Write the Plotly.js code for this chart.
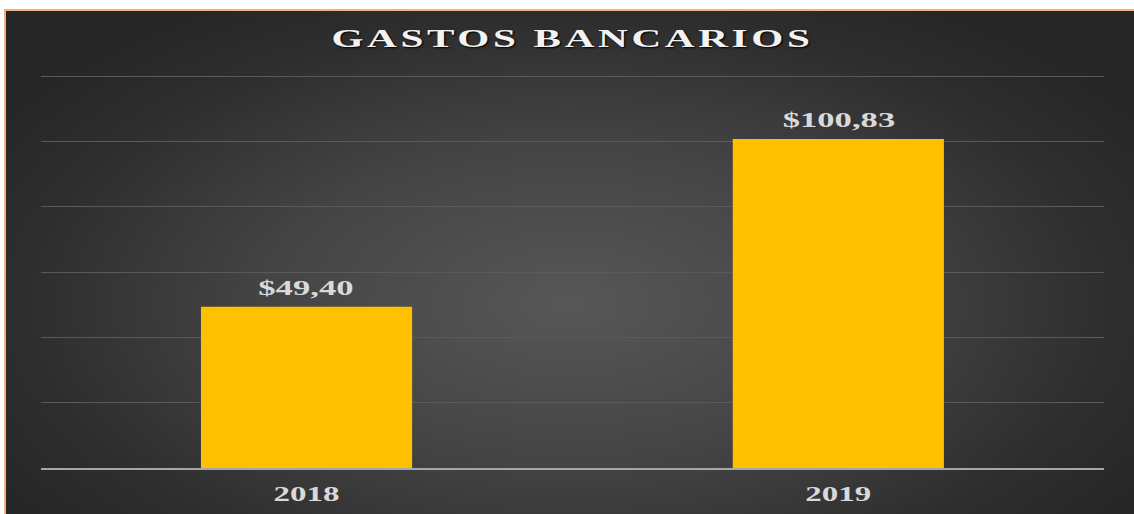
<!DOCTYPE html>
<html>
<head>
<meta charset="utf-8">
<script src="https://cdn.plot.ly/plotly-3.0.1.min.js"></script>
<style>
  html, body { margin: 0; padding: 0; background: #ffffff; width: 1134px; height: 514px; overflow: hidden; }
  #frame {
    position: absolute; left: 4px; top: 9px; width: 1128px; height: 505px;
    border-left: 2px solid #f4b183; border-top: 2px solid #f4b183;
    background: radial-gradient(ellipse 60% 70% at 50% 58%, #575757 0%, #444444 45%, #2e2e2e 80%, #262626 100%);
    overflow: hidden;
  }
  #chart { position: absolute; left: 0; top: 0; width: 684px; height: 503px; transform-origin: 0 0; }
  .gtitle { letter-spacing: 2.2px; }
  #err { position: absolute; left: 10px; top: 200px; color: red; font: 14px sans-serif; }
</style>
</head>
<body>
<div id="frame"><div id="chart"></div></div>
<div id="err"></div>
<script>
window.onerror = function (m) { document.getElementById('err').textContent += ' ' + m; };

const categories = ['2018', '2019'];
const values = [49.40, 100.83];
const chartTitle = 'GASTOS BANCARIOS';

const fmt = v => '$' + v.toFixed(2).replace('.', ',');
const serif = '"Liberation Serif", "Times New Roman", serif';

const trace = {
  type: 'bar',
  x: categories,
  y: values,
  marker: { color: '#FFC000' }
};

const annotations = categories.map((c, i) => ({
  x: i, y: values[i], xref: 'x', yref: 'y',
  text: fmt(values[i]),
  showarrow: false, xanchor: 'center', yanchor: 'bottom', yshift: 5,
  font: { family: serif, size: 21, color: '#d9d9d9', weight: 'bold' }
}));

const layout = {
  width: 684, height: 503,
  margin: { l: 21, r: 18, t: 64, b: 46 },
  paper_bgcolor: 'rgba(0,0,0,0)',
  plot_bgcolor: 'rgba(0,0,0,0)',
  bargap: 0.603,
  showlegend: false,
  title: {
    text: chartTitle,
    x: 0.5, xanchor: 'center', xref: 'paper',
    y: 0.946, yanchor: 'middle', yref: 'container',
    font: { family: serif, size: 25, color: '#f2f2f2', weight: 'bold', shadow: '1px 2px 2px #000000' }
  },
  xaxis: {
    type: 'category',
    range: [-0.5, 1.5],
    showgrid: false, zeroline: false,
    showline: true, linecolor: '#a6a6a6', linewidth: 1.5,
    ticks: 'outside', ticklen: 8, tickcolor: 'rgba(0,0,0,0)',
    tickfont: { family: serif, size: 20, color: '#d9d9d9', weight: 'bold' }
  },
  yaxis: {
    range: [0, 120.4], dtick: 20,
    showgrid: true, gridcolor: '#5a5a5a', gridwidth: 1,
    zeroline: false, showticklabels: false, ticks: ''
  },
  annotations: annotations
};

Plotly.newPlot('chart', [trace], layout, { staticPlot: true, displayModeBar: false }).then(function () {
  document.getElementById('chart').style.transform = 'scaleX(1.649)';
});
</script>
</body>
</html>
